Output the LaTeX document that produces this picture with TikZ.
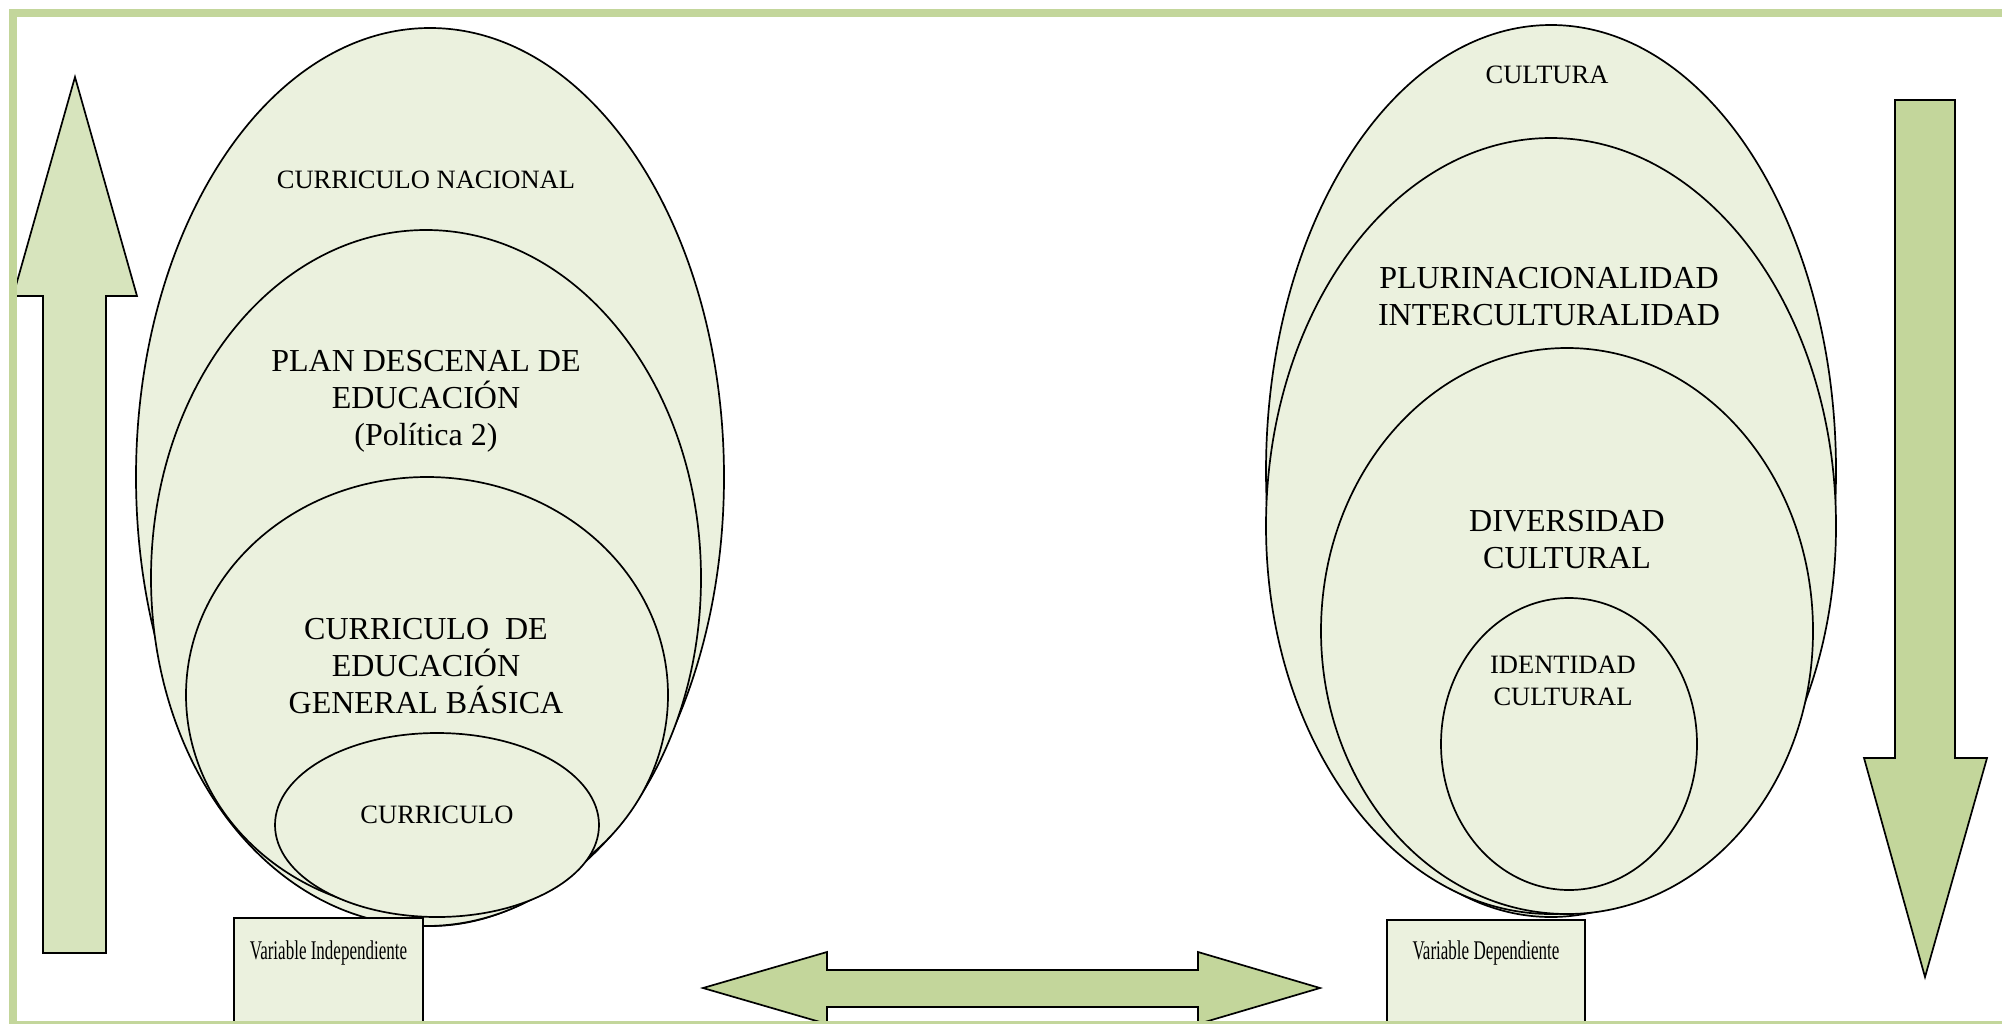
\documentclass[tikz,border=0pt]{standalone}
\usepackage{fontspec}
\usepackage{graphicx}
\setmainfont{Liberation Serif}
\usetikzlibrary{shapes.geometric}
\definecolor{olivebar}{HTML}{C3D69B}
\definecolor{oliveup}{HTML}{D7E4BD}
\definecolor{olivepale}{HTML}{EBF1DE}

\begin{document}
\begin{tikzpicture}
    [x=0.5pt, y=-0.5pt, line width=0.85pt,
     oval/.style={ellipse, draw, fill=olivepale, inner sep=0pt, outer sep=0pt},
     varbox/.style={rectangle, draw, fill=olivepale, anchor=north, minimum height=70pt},
     bigtxt/.style={align=center, inner sep=0pt, font=\fontsize{16}{18.5}\selectfont},
     smalltxt/.style={align=center, inner sep=0pt, font=\fontsize{13.25}{16}\selectfont},
     boxtxt/.style={inner sep=0pt, font=\fontsize{13.5}{16}\selectfont}]
  \useasboundingbox (0,0) rectangle (2002,1023);
  \clip (0,0) rectangle (2002,1023);
  \fill[white] (0,0) rectangle (2002,1023);

  % arrow going up
  \draw[fill=oliveup] (75,77) -- (137,296) -- (106,296) -- (106,953) -- (43,953)
    -- (43,296) -- (13,296) -- cycle;

  \begin{scope}
  \node (nac) [oval, minimum width=294pt, minimum height=449pt] at (430,477) {};
  \node (plan) [oval, minimum width=275pt, minimum height=348pt] at (426,578) {};
  \node (egb) [oval, minimum width=241pt, minimum height=218pt] at (427,695) {};
  \node (cur) [oval, minimum width=162pt, minimum height=92pt] at (437,825) {};

  \node (nactxt) [smalltxt] at (426,180) {CURRICULO NACIONAL};
  \node (plantxt) [bigtxt] at (426,401) {PLAN DESCENAL DE\\EDUCACIÓN\\(Política 2)};
  \node (egbtxt) [bigtxt] at (426,666) {CURRICULO\ \ DE\\EDUCACIÓN\\GENERAL BÁSICA};
  \node (curtxt) [smalltxt] at (437,815) {CURRICULO};

  \node (vi) [varbox, minimum width=94.5pt] at (328.5,917) {};
  \node (vitxt) [boxtxt] at (328.5,953) {\scalebox{0.63}[1]{Variable Independiente}};
  \end{scope}

  \begin{scope}
  \node (cul) [oval, minimum width=285pt, minimum height=446pt] at (1551,471) {};
  \node (plu) [oval, minimum width=285pt, minimum height=388pt] at (1551,526) {};
  \node (div) [oval, minimum width=246pt, minimum height=283pt] at (1567,631) {};
  \node (ide) [oval, minimum width=128pt, minimum height=146pt] at (1569,744) {};

  \node (cultxt) [smalltxt] at (1547,75) {CULTURA};
  \node (plutxt) [bigtxt] at (1549,297) {PLURINACIONALIDAD\\INTERCULTURALIDAD};
  \node (divtxt) [bigtxt] at (1567,540) {DIVERSIDAD\\CULTURAL};
  \node (idetxt) [smalltxt] at (1563,681) {IDENTIDAD\\CULTURAL};

  \node (vd) [varbox, minimum width=99pt] at (1486,919) {};
  \node (vdtxt) [boxtxt] at (1486,953) {\scalebox{0.63}[1]{Variable Dependiente}};
  \end{scope}

  % arrow going down
  \draw[fill=olivebar] (1895,100) -- (1955,100) -- (1955,758) -- (1987,758) -- (1925,977)
    -- (1864,758) -- (1895,758) -- cycle;

  % arrow both ways
  \draw[fill=olivebar] (703,988) -- (827,952) -- (827,970) -- (1198,970) -- (1198,952)
    -- (1320,988) -- (1198,1024) -- (1198,1007) -- (827,1007) -- (827,1024) -- cycle;

  \draw[olivebar, line width=4pt] (13,1025) -- (13,13) -- (2010,13);
  \draw[olivebar, line width=4pt] (9,1025) -- (2010,1025);
\end{tikzpicture}
\end{document}
